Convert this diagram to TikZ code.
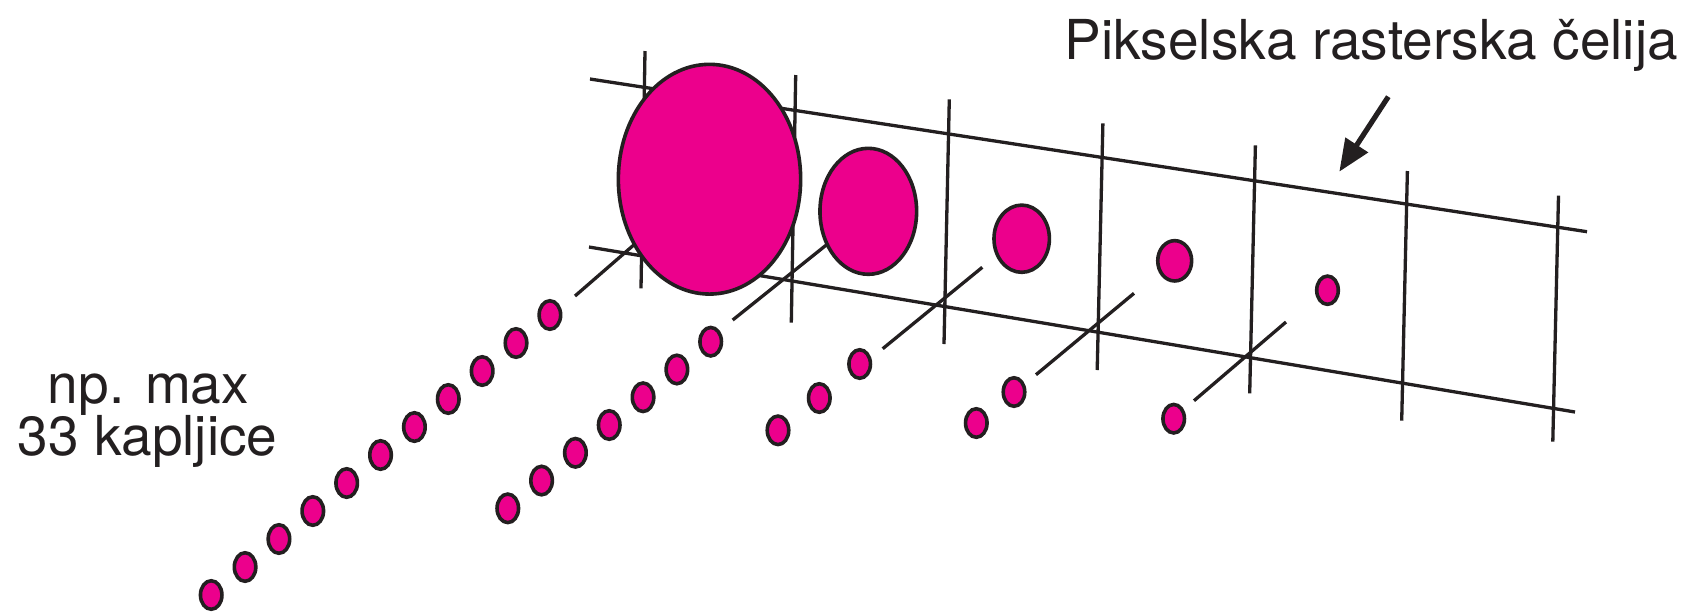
\documentclass[tikz,border=0pt]{standalone}
\usepackage{fontspec}
\setmainfont{TeX Gyre Heros}
\usetikzlibrary{shapes.geometric,arrows.meta,backgrounds}
\definecolor{mag}{HTML}{EC008C}
\definecolor{ink}{HTML}{231F20}
\begin{document}
\begin{tikzpicture}[x=0.01cm,y=-0.01cm,
  gridline/.style={draw=ink,line width=0.033cm},
  drop/.style 2 args={ellipse,draw=ink,fill=mag,line width=0.036cm,inner sep=0pt,outer sep=0pt,minimum width=#1cm,minimum height=#2cm},
  dot/.style={drop={0.215}{0.285}},
  txt/.style={font=\fontsize{15.65}{18}\selectfont,text=ink,inner sep=0pt,anchor=base},
  pointer/.style={draw=ink,line width=0.052cm,-{Triangle[length=0.32cm,width=0.26cm]}}]
\useasboundingbox (0,0) rectangle (1687,611);

% droplets in the cells
\node[drop={1.822}{2.296}] (e1) at (709.5,179.2) {};
\node[drop={0.966}{1.259}] (e2) at (868.3,211.3) {};
\node[drop={0.554}{0.672}] (e3) at (1021.7,238.7) {};
\node[drop={0.339}{0.403}] (e4) at (1174.7,260.8) {};
\node[drop={0.216}{0.283}] (e5) at (1327.5,290.2) {};

% streams of droplets
\foreach \i in {0,...,10}
  \node[dot] (a\i) at ({549.9-33.87*\i},{315+28.0*\i}) {};
\foreach \i in {0,...,6}
  \node[dot] (b\i) at ({710.7-33.82*\i},{341.7+27.77*\i}) {};
\node[dot] (c0) at (859.7,364) {};
\node[dot] (c1) at (819.3,398) {};
\node[dot] (c2) at (778,430.3) {};
\node[dot] (d0) at (1014,392) {};
\node[dot] (d1) at (976.3,423) {};
\node[dot] (f0) at (1173.7,418.7) {};

% grid coordinates
\coordinate (tl) at (590,79);    \coordinate (tr) at (1587,231.7);
\coordinate (bl) at (589,247);   \coordinate (br) at (1575,412);
\coordinate (v1t) at (645,51);      \coordinate (v1b) at (641,288.3);
\coordinate (v2t) at (795.7,75);    \coordinate (v2b) at (791.3,322.7);
\coordinate (v3t) at (949.3,99.3);  \coordinate (v3b) at (944,344);
\coordinate (v4t) at (1102.9,123.3);\coordinate (v4b) at (1097.2,370);
\coordinate (v5t) at (1255.4,145.3);\coordinate (v5b) at (1249.7,393.3);
\coordinate (v6t) at (1407.4,171);  \coordinate (v6b) at (1401.7,420.7);
\coordinate (v7t) at (1558.5,195.7);\coordinate (v7b) at (1552.8,441.7);
% stream line ends
\coordinate (s1) at (575,296);
\coordinate (s2) at (732.7,320);
\coordinate (s3a) at (882.7,348.7); \coordinate (s3b) at (982.3,267.3);
\coordinate (s4a) at (1036,374.7);  \coordinate (s4b) at (1134,293.3);
\coordinate (s5a) at (1194,400.7);  \coordinate (s5b) at (1286,322);

\begin{scope}[on background layer]
  \draw[gridline] (tl) -- (tr);
  \draw[gridline] (bl) -- (br);
  \foreach \v in {1,...,7}
    \draw[gridline] (v\v t) -- (v\v b);
  \draw[gridline] (s1) -- (e1);
  \draw[gridline] (s2) -- (e2);
  \draw[gridline] (s3a) -- (s3b);
  \draw[gridline] (s4a) -- (s4b);
  \draw[gridline] (s5a) -- (s5b);
\end{scope}

% arrow
\coordinate (ar1) at (1388.3,96.7);
\coordinate (ar2) at (1339.3,171.7);
\draw[pointer] (ar1) -- (ar2);

% texts
\node[txt] (title) at (1371.3,59.3) {Pikselska rasterska čelija};
\node[txt] (np1) at (148.5,403.3) {np. max};
\node[txt] (np2) at (147.5,455) {33 kapljice};
\end{tikzpicture}
\end{document}
